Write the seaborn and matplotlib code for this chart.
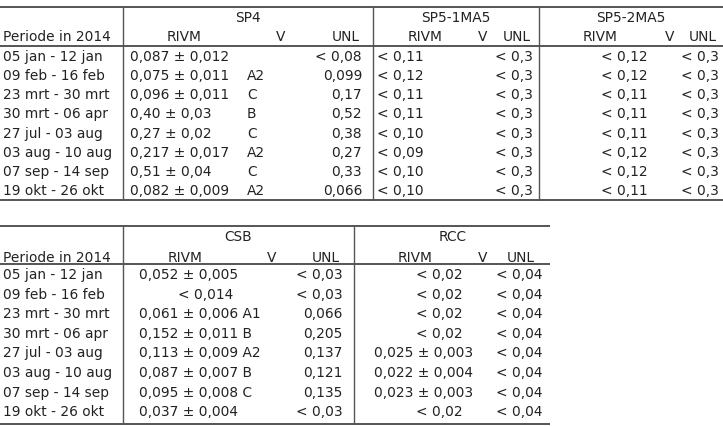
import numpy as np
import matplotlib
matplotlib.use("Agg")
import matplotlib.pyplot as plt
import seaborn as sns

periods = ["05 jan - 12 jan", "09 feb - 16 feb", "23 mrt - 30 mrt", "30 mrt - 06 apr",
           "27 jul - 03 aug", "03 aug - 10 aug", "07 sep - 14 sep", "19 okt - 26 okt"]

sp4_rivm = ["0,087 ± 0,012", "0,075 ± 0,011", "0,096 ± 0,011", "0,40 ± 0,03",
            "0,27 ± 0,02", "0,217 ± 0,017", "0,51 ± 0,04", "0,082 ± 0,009"]
sp4_v = ["", "A2", "C", "B", "C", "A2", "C", "A2"]
sp4_unl = ["< 0,08", "0,099", "0,17", "0,52", "0,38", "0,27", "0,33", "0,066"]

sp51_rivm = ["< 0,11", "< 0,12", "< 0,11", "< 0,11", "< 0,10", "< 0,09", "< 0,10", "< 0,10"]
sp51_unl = ["< 0,3"] * 8
sp52_rivm = ["< 0,12", "< 0,12", "< 0,11", "< 0,11", "< 0,11", "< 0,12", "< 0,12", "< 0,11"]
sp52_unl = ["< 0,3"] * 8

csb_rivm = ["0,052 ± 0,005", "< 0,014", "0,061 ± 0,006 A1", "0,152 ± 0,011 B",
            "0,113 ± 0,009 A2", "0,087 ± 0,007 B", "0,095 ± 0,008 C", "0,037 ± 0,004"]
csb_unl = ["< 0,03", "< 0,03", "0,066", "0,205", "0,137", "0,121", "0,135", "< 0,03"]

rcc_rivm = ["< 0,02", "< 0,02", "< 0,02", "< 0,02",
            "0,025 ± 0,003", "0,022 ± 0,004", "0,023 ± 0,003", "< 0,02"]
rcc_unl = ["< 0,04"] * 8

sns.set_style("white")
plt.rcParams['font.family'] = ['DejaVu Sans']

fig = plt.figure(figsize=(7.23, 4.26), dpi=100)
ax = fig.add_axes([0, 0, 1, 1])
ax.set_xlim(0, 723)
ax.set_ylim(426, 0)
ax.axis("off")

fs = 9.9
tc = "#222222"
lc = "#555555"


def txt(x, y, s, ha="left"):
    ax.text(x, y, s, ha=ha, va="center", fontsize=fs, color=tc)


# ---- tabel 1 ----
top1, head1, bot1 = 7, 46, 200
rows1 = 57 + 19.15 * np.arange(len(periods))

ax.hlines([top1, head1, bot1], 0, 723, color=lc, lw=1.4)
ax.vlines([123, 373, 539], top1, bot1, color=lc, lw=1.0)

txt(248, 18, "SP4", "center")
txt(456, 18, "SP5-1MA5", "center")
txt(631, 18, "SP5-2MA5", "center")
txt(3, 37, "Periode in 2014")
for x, s, ha in [(184, "RIVM", "center"), (281, "V", "center"), (360, "UNL", "right"),
                 (425, "RIVM", "center"), (483, "V", "center"), (531, "UNL", "right"),
                 (600, "RIVM", "center"), (670, "V", "center"), (717, "UNL", "right")]:
    txt(x, 37, s, ha)

for i, y in enumerate(rows1):
    txt(3, y, periods[i])
    txt(130, y, sp4_rivm[i])
    txt(247, y, sp4_v[i])
    txt(362, y, sp4_unl[i], "right")
    txt(377, y, sp51_rivm[i])
    txt(533, y, sp51_unl[i], "right")
    txt(648, y, sp52_rivm[i], "right")
    txt(719, y, sp52_unl[i], "right")

# ---- tabel 2 ----
top2, head2, bot2 = 226, 264, 424
rows2 = 275 + 19.6 * np.arange(len(periods))

ax.hlines([top2, head2, bot2], 0, 550, color=lc, lw=1.4)
ax.vlines([123, 354], top2, bot2, color=lc, lw=1.0)

txt(238, 237, "CSB", "center")
txt(453, 237, "RCC", "center")
txt(3, 258, "Periode in 2014")
for x, s, ha in [(185, "RIVM", "center"), (272, "V", "center"), (340, "UNL", "right"),
                 (415, "RIVM", "center"), (483, "V", "center"), (535, "UNL", "right")]:
    txt(x, 258, s, ha)

for i, y in enumerate(rows2):
    txt(3, y, periods[i])
    if csb_rivm[i].startswith("<"):
        txt(206, y, csb_rivm[i], "center")
    else:
        txt(139, y, csb_rivm[i])
    txt(343, y, csb_unl[i], "right")
    if rcc_rivm[i].startswith("<"):
        txt(463, y, rcc_rivm[i], "right")
    else:
        txt(473, y, rcc_rivm[i], "right")
    txt(542, y, rcc_unl[i], "right")

fig.savefig("out.png", dpi=100)
